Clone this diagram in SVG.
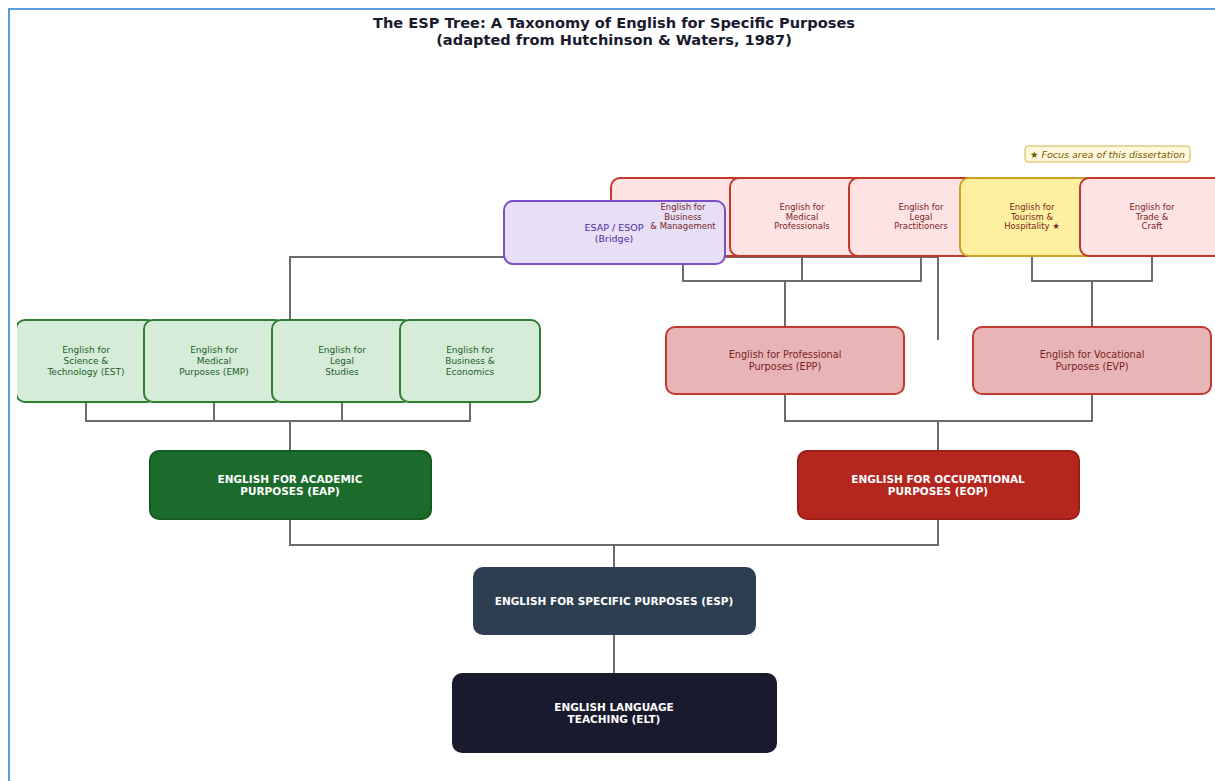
<svg xmlns="http://www.w3.org/2000/svg" width="1215" height="781" viewBox="0 0 1215 781">
<defs>
<style>
text{font-family:"DejaVu Sans","Liberation Sans",sans-serif;text-anchor:middle}
.title{font-size:14.6px;font-weight:bold;fill:#1a1a2e}
.conn{stroke:#6b6b6b;stroke-width:2;fill:none}
.green rect{fill:#d5ecd8;stroke:#2e7d32;stroke-width:2}
.green text{font-size:9px;fill:#1e5e28}
.red rect{fill:#fde3e3;stroke:#c0392b;stroke-width:2}
.red text{font-size:8.5px;fill:#7b1f1f}
.mid rect{fill:#e8b4b5;stroke:#c0392b;stroke-width:2}
.mid text{font-size:9.7px;fill:#7b1f1f}
.main text{font-size:10.5px;font-weight:bold;fill:#ffffff}
</style>
<clipPath id="axes"><rect x="17" y="0" width="1198" height="781"/></clipPath>
</defs>
<rect x="0" y="0" width="1215" height="781" fill="#ffffff"/>
<path d="M9,781 V9 H1215" fill="none" stroke="#5b9bd5" stroke-width="2"/>
<text class="title" x="614" y="28">The ESP Tree: A Taxonomy of English for Specific Purposes</text>
<text class="title" x="614" y="45">(adapted from Hutchinson &amp; Waters, 1987)</text>

<g id="connectors" clip-path="url(#axes)">
<path class="conn" d="M614,673 V635"/>
<path class="conn" d="M614,567 V545 M290,519 V545 H938 V519"/>
<path class="conn" d="M290,451 V421 M86,402 V421 H470 V402 M214,402 V421 M342,402 V421"/>
<path class="conn" d="M938,451 V421 M785,394 V421 H1092 V394"/>
<path class="conn" d="M290,320 V257 H938 V340"/>
<path class="conn" d="M683,256 V281 H921 V256 M802,256 V281 M785,281 V327"/>
<path class="conn" d="M1032,256 V281 H1152 V256 M1092,281 V327"/>
</g>

<g id="elt" class="main"><rect x="452" y="673" width="325" height="80" rx="10" fill="#1a1a2e"/>
<text x="614" y="711">ENGLISH LANGUAGE</text><text x="614" y="723">TEACHING (ELT)</text></g>
<g id="esp" class="main"><rect x="473" y="567" width="283" height="68" rx="10" fill="#2c3e50"/>
<text x="614" y="605">ENGLISH FOR SPECIFIC PURPOSES (ESP)</text></g>
<g id="eap" class="main"><rect x="150" y="451" width="281" height="68" rx="9" fill="#1b6b2a" stroke="#155a22" stroke-width="2"/>
<text x="290" y="483">ENGLISH FOR ACADEMIC</text><text x="290" y="495">PURPOSES (EAP)</text></g>
<g id="eop" class="main"><rect x="798" y="451" width="281" height="68" rx="9" fill="#b5261e" stroke="#9a1f18" stroke-width="2"/>
<text x="938" y="483">ENGLISH FOR OCCUPATIONAL</text><text x="938" y="495">PURPOSES (EOP)</text></g>

<g clip-path="url(#axes)">
<g id="est" class="green"><rect x="16" y="320" width="140" height="82" rx="9"/>
<text x="86" y="353">English for</text><text x="86" y="364">Science &amp;</text><text x="86" y="375">Technology (EST)</text></g>
<g id="emp" class="green"><rect x="144" y="320" width="140" height="82" rx="9"/>
<text x="214" y="353">English for</text><text x="214" y="364">Medical</text><text x="214" y="375">Purposes (EMP)</text></g>
<g id="legal-studies" class="green"><rect x="272" y="320" width="140" height="82" rx="9"/>
<text x="342" y="353">English for</text><text x="342" y="364">Legal</text><text x="342" y="375">Studies</text></g>
<g id="business-econ" class="green"><rect x="400" y="320" width="140" height="82" rx="9"/>
<text x="470" y="353">English for</text><text x="470" y="364">Business &amp;</text><text x="470" y="375">Economics</text></g>
</g>

<g id="epp" class="mid"><rect x="666" y="327" width="238" height="67" rx="9"/>
<text x="785" y="358">English for Professional</text><text x="785" y="370">Purposes (EPP)</text></g>
<g id="evp" class="mid"><rect x="973" y="327" width="238" height="67" rx="9"/>
<text x="1092" y="358">English for Vocational</text><text x="1092" y="370">Purposes (EVP)</text></g>

<g id="business-mgmt" class="red"><rect x="611" y="178" width="144" height="78" rx="9"/></g>
<g id="medical-prof" class="red"><rect x="730" y="178" width="144" height="78" rx="9"/>
<text x="802" y="210">English for</text><text x="802" y="220">Medical</text><text x="802" y="229">Professionals</text></g>
<g id="legal-pract" class="red"><rect x="849" y="178" width="144" height="78" rx="9"/>
<text x="921" y="210">English for</text><text x="921" y="220">Legal</text><text x="921" y="229">Practitioners</text></g>
<g id="tourism" class="red"><rect x="960" y="178" width="144" height="78" rx="9" style="fill:#fff0a0;stroke:#c9a227"/>
<text x="1032" y="210">English for</text><text x="1032" y="220">Tourism &amp;</text><text x="1032" y="229">Hospitality ★</text></g>
<g id="trade" class="red"><rect x="1080" y="178" width="144" height="78" rx="9"/>
<text x="1152" y="210">English for</text><text x="1152" y="220">Trade &amp;</text><text x="1152" y="229">Craft</text></g>

<g id="bridge"><rect x="504" y="201" width="221" height="63" rx="9" fill="#e6dff6" stroke="#7b4fc9" stroke-width="2"/>
<text x="614" y="231" style="font-size:9.5px;fill:#4b2c9e">ESAP / ESOP</text><text x="614" y="242" style="font-size:9.5px;fill:#4b2c9e">(Bridge)</text></g>

<g id="business-mgmt-label" class="red">
<text x="683" y="210">English for</text><text x="683" y="220">Business</text><text x="683" y="229">&amp; Management</text></g>

<g id="focus-note"><rect x="1025" y="146" width="165" height="16" rx="3" fill="#fff8dc" stroke="#d4b24a" stroke-width="1"/>
<text x="1107.5" y="157.5" style="font-size:9.5px;font-style:italic;fill:#7a5a00">★ Focus area of this dissertation</text></g>
</svg>
